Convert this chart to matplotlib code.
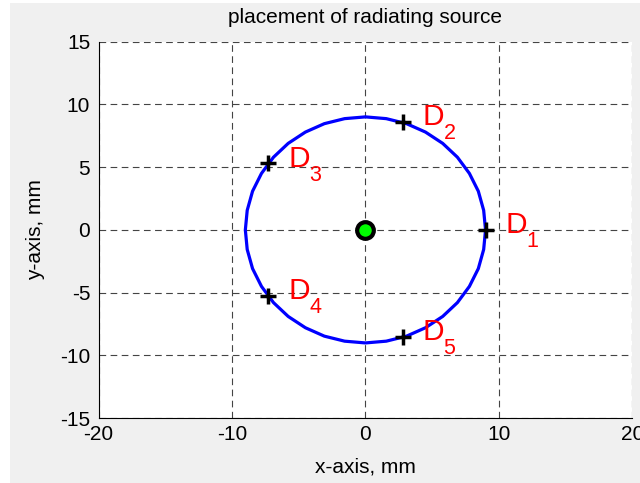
import matplotlib
matplotlib.use("Agg")
import matplotlib.pyplot as plt
from matplotlib.patches import Rectangle

# ring of radius ~9 mm, vertices (every 10 deg)
ring_x = [9.0, 8.86, 8.46, 7.79, 6.89, 5.79, 4.5, 3.08, 1.56, 0.0,
          -1.56, -3.08, -4.5, -5.79, -6.89, -7.79, -8.46, -8.86, -9.0,
          -8.86, -8.46, -7.79, -6.89, -5.79, -4.5, -3.08, -1.56, 0.0,
          1.56, 3.08, 4.5, 5.79, 6.89, 7.79, 8.46, 8.86, 9.0]
ring_y = [0.0, 1.56, 3.08, 4.5, 5.79, 6.89, 7.79, 8.46, 8.86, 9.0,
          8.86, 8.46, 7.79, 6.89, 5.79, 4.5, 3.08, 1.56, 0.0,
          -1.56, -3.08, -4.5, -5.79, -6.89, -7.79, -8.46, -8.86, -9.0,
          -8.86, -8.46, -7.79, -6.89, -5.79, -4.5, -3.08, -1.56, 0.0]

# detectors
det_x = [9.0, 2.78, -7.28, -7.28, 2.78]
det_y = [0.0, 8.56, 5.29, -5.29, -8.56]
det_sub = ["1", "2", "3", "4", "5"]

# source
src_x = [0.0]
src_y = [0.0]

plt.rcParams['font.family'] = ['Liberation Sans', 'DejaVu Sans']
plt.rcParams['axes.unicode_minus'] = False

fs = 15

fig = plt.figure(figsize=(6.40, 4.83), dpi=100, facecolor='white')
fig.patches.append(Rectangle((10 / 640, 0), 1, 480 / 483, transform=fig.transFigure,
                             facecolor='#f0f0f0', edgecolor='none', zorder=-1))
ax = fig.add_axes([0.154, 0.134, 0.834, 0.780])

ax.plot(ring_x, ring_y, color='#0000ff', lw=2.3, zorder=3)
ax.plot(det_x, det_y, '+', color='black', ms=11, mew=2.5, zorder=4)
for x, y, s in zip(det_x, det_y, det_sub):
    ax.annotate("D", xy=(x, y), xytext=(14.6, -2.2), textcoords='offset points',
                color='red', fontsize=21.5, ha='left', va='baseline', zorder=5)
    ax.annotate(s, xy=(x, y), xytext=(29.5, -12.3), textcoords='offset points',
                color='red', fontsize=15.5, ha='left', va='baseline', zorder=5)
ax.plot(src_x, src_y, 'o', color='#00ff00', mec='black', ms=12, mew=3, zorder=5)

ax.set_xlim(-20, 20)
ax.set_ylim(-15, 15)
ax.set_xticks([-20, -10, 0, 10, 20])
ax.set_yticks([-15, -10, -5, 0, 5, 10, 15])
ax.grid(True, color='#444444', linestyle=(0, (6, 4)), lw=0.8)
ax.set_axisbelow(True)
for side in ['top', 'right']:
    ax.spines[side].set_visible(False)
for side in ['left', 'bottom']:
    ax.spines[side].set_linewidth(0.8)
ax.tick_params(direction='in', length=0, labelsize=fs)
ax.tick_params(axis='x', pad=5)
ax.tick_params(axis='y', pad=6)

ax.text(0.5, 1.063, "placement of radiating source", fontsize=fs,
        ha='center', va='center', transform=ax.transAxes)
ax.set_xlabel("x-axis, mm", fontsize=fs)
ax.set_ylabel("y-axis, mm", fontsize=fs)
ax.xaxis.set_label_coords(0.5, -0.129)
ax.yaxis.set_label_coords(-0.119, 0.5)
ax.xaxis.label.set_va('center')
ax.yaxis.label.set_va('center')

fig.savefig("out.png", dpi=100, facecolor=fig.get_facecolor())
